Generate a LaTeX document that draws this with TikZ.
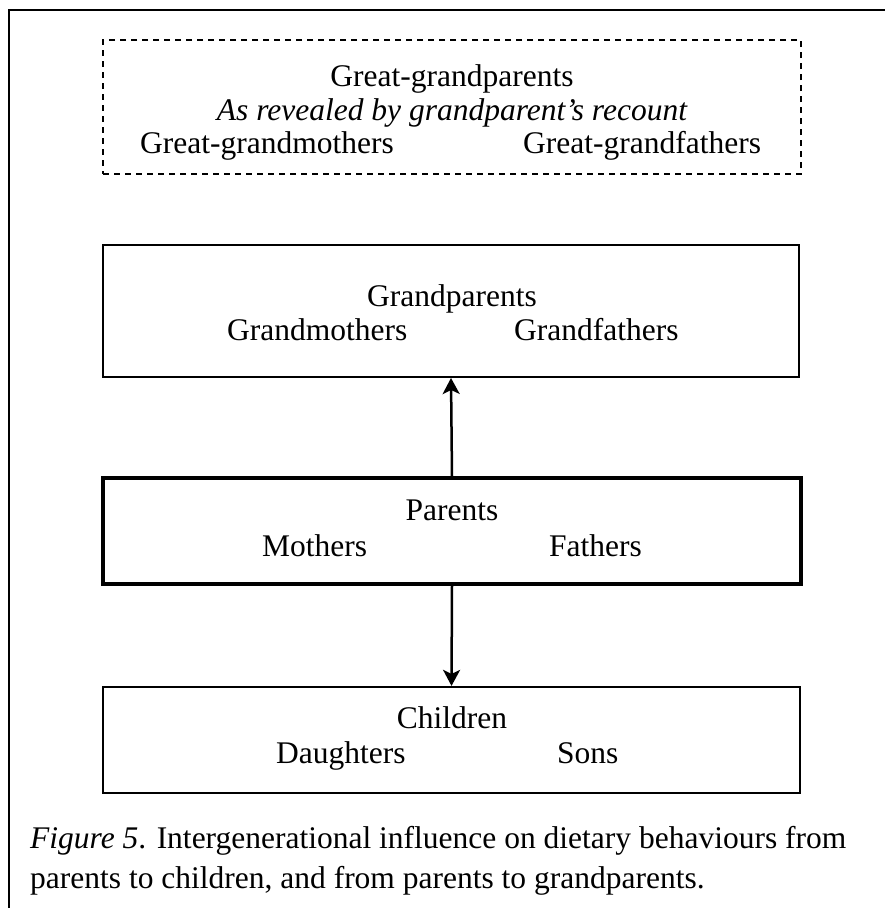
\documentclass[tikz,border=0pt]{standalone}
\usepackage{fontspec}
\setmainfont{Liberation Serif}
\usetikzlibrary{arrows.meta}
\begin{document}
\begin{tikzpicture}[x=1pt,y=-1pt,
  genbox/.style={draw=black,rectangle,inner sep=0pt,minimum width=698pt},
  lbl/.style={inner sep=0pt,anchor=base,font=\fontsize{31.5}{36}\selectfont},
  lblw/.style={lbl,anchor=base west},
  link/.style={line width=2.5pt,-{Stealth[length=16pt,width=17pt,inset=4pt]}}]
\useasboundingbox (0,0) rectangle (885,908);
% frame
\draw[line width=2pt] (9,908) -- (9,10) -- (885,10);
% boxes
\node[genbox,dashed,line width=1.8pt,dash pattern=on 6pt off 5pt,minimum height=134pt] (gg) at (452,107) {};
\node[genbox,line width=2pt,minimum height=132pt,minimum width=696pt] (gp) at (451,311) {};
\node[genbox,line width=3.5pt,minimum height=106pt] (pa) at (452,531) {};
\node[genbox,line width=2.2pt,minimum height=106pt,minimum width=697pt] (ch) at (451.5,740) {};
% great-grandparents
\node[lbl] (ggt) at (452,86) {Great-grandparents};
\node[lbl] (ggs) at (452,120) {\itshape As revealed by grandparent’s recount};
\node[lblw] (ggm) at (140,153) {Great-grandmothers};
\node[lblw] (ggf) at (523,153) {Great-grandfathers};
% grandparents
\node[lbl] (gpt) at (452,306) {Grandparents};
\node[lblw] (gpm) at (227,340) {Grandmothers};
\node[lblw] (gpf) at (514,340) {Grandfathers};
% parents
\node[lbl] (pat) at (452,520) {Parents};
\node[lblw] (pam) at (262,556) {Mothers};
\node[lblw] (paf) at (549,556) {Fathers};
% children
\node[lbl] (cht) at (452,728) {Children};
\node[lblw] (chd) at (276,763) {Daughters};
\node[lblw] (chs) at (557,763) {Sons};
% influence arrows
\draw[link] (pa.north) -- (gp.south);
\draw[link] (pa.south) -- (ch.north);
% caption
\node[lblw] (cap1) at (30,848) {\textit{Figure 5}. Intergenerational influence on dietary behaviours from};
\node[lblw] (cap2) at (30,888) {parents to children, and from parents to grandparents.};
\end{tikzpicture}
\end{document}
